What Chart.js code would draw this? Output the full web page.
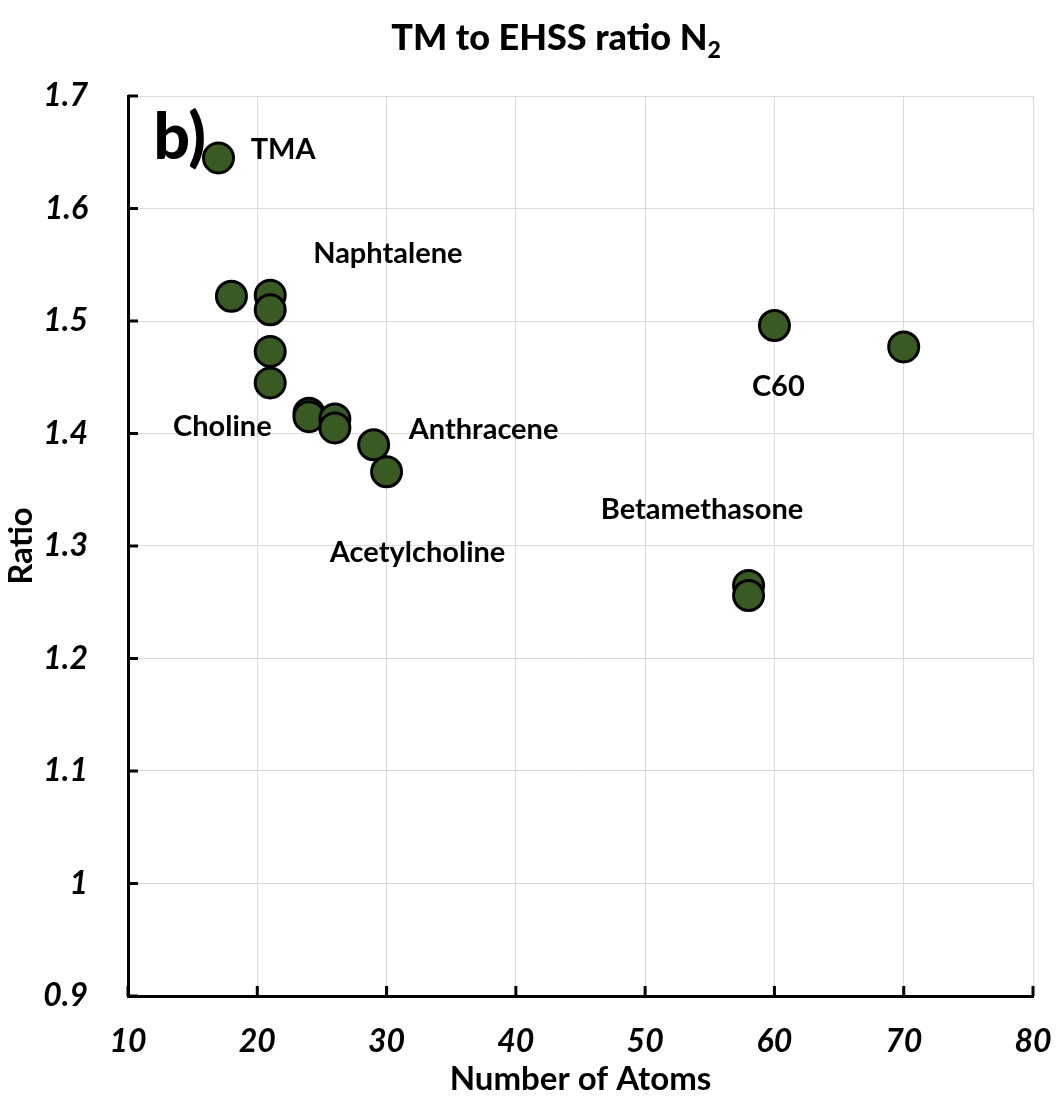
<!DOCTYPE html>
<html>
<head>
<meta charset="utf-8">
<script src="https://cdn.jsdelivr.net/npm/chart.js@4.4.1/dist/chart.umd.min.js"></script>
<style>
  html, body { margin: 0; padding: 0; background: #fff; }
  #wrap { width: 1057px; height: 1099px; }
</style>
</head>
<body>
<div id="wrap"><canvas id="ratioChart" width="1057" height="1099"></canvas></div>
<script>
// number of atoms vs TM/EHSS ratio
const atoms = [17, 18, 21, 21, 21, 21, 24, 24, 26, 26, 29, 30, 60, 70, 58, 58];
const ratio = [1.645, 1.522, 1.523, 1.510, 1.473, 1.445, 1.418, 1.415, 1.413, 1.405, 1.390, 1.366, 1.496, 1.477, 1.265, 1.256];

// molecule names and where they sit (data units)
const names = ["TMA", "Naphtalene", "Choline", "Anthracene", "Acetylcholine", "C60", "Betamethasone"];
const nameX = [22.0, 30.1, 17.3, 37.5, 32.4, 60.3, 54.4];
const nameY = [1.652, 1.560, 1.406, 1.403, 1.294, 1.442, 1.332];

const xTicks = [10, 20, 30, 40, 50, 60, 70, 80];
const yTicks = [0.9, 1.0, 1.1, 1.2, 1.3, 1.4, 1.5, 1.6, 1.7];

const labelFont = "bold 29px Lato";
const tickFont = { family: "Lato", size: 32, style: "italic", weight: "bold" };
const axisTitleFont = { family: "Lato", size: 33, weight: "bold" };

const extras = {
  id: "extras",
  afterDraw(chart) {
    const c = chart.ctx;
    const xs = chart.scales.x, ys = chart.scales.y;
    const area = chart.chartArea;
    c.save();

    // inward tick marks
    c.strokeStyle = "#000";
    c.lineWidth = 3;
    xTicks.forEach(v => {
      const px = xs.getPixelForValue(v);
      c.beginPath(); c.moveTo(px, area.bottom); c.lineTo(px, area.bottom - 10); c.stroke();
    });
    yTicks.forEach(v => {
      const py = ys.getPixelForValue(v);
      c.beginPath(); c.moveTo(area.left, py); c.lineTo(area.left + 10, py); c.stroke();
    });

    // molecule labels
    c.fillStyle = "#000";
    c.font = labelFont;
    c.textAlign = "center";
    c.textBaseline = "middle";
    names.forEach((n, i) => {
      c.fillText(n, xs.getPixelForValue(nameX[i]), ys.getPixelForValue(nameY[i]));
    });

    // panel letter
    c.font = "900 64px Lato";
    c.fillText("b)", xs.getPixelForValue(14.0), ys.getPixelForValue(1.662));

    // title with subscript
    c.font = "900 36px Lato";
    const main = "TM to EHSS ratio N";
    const w1 = c.measureText(main).width;
    c.font = "900 23px Lato";
    const w2 = c.measureText("2").width;
    const x0 = 556 - (w1 + w2) / 2;
    c.textAlign = "left";
    c.textBaseline = "alphabetic";
    c.font = "900 36px Lato";
    c.fillText(main, x0, 50);
    c.font = "900 23px Lato";
    c.fillText("2", x0 + w1, 58);

    c.restore();
  }
};

new Chart(document.getElementById("ratioChart").getContext("2d"), {
  type: "scatter",
  data: {
    datasets: [{
      data: atoms.map((a, i) => ({ x: a, y: ratio[i] })),
      backgroundColor: "#3a5a23",
      borderColor: "#000",
      borderWidth: 3,
      pointRadius: 15,
      pointHoverRadius: 15
    }]
  },
  options: {
    responsive: false,
    animation: false,
    layout: { padding: { top: 96, right: 24, bottom: 0, left: 0 } },
    plugins: {
      legend: { display: false },
      tooltip: { enabled: false }
    },
    scales: {
      x: {
        type: "linear",
        min: 10,
        max: 80,
        afterFit: s => { s.height = 103; s.paddingRight = 0; s.paddingLeft = 0; },
        afterBuildTicks: s => { s.ticks = xTicks.map(v => ({ value: v })); },
        grid: { color: "#d9d9d9", lineWidth: 1, drawTicks: false },
        border: { color: "#000", width: 3 },
        ticks: { color: "#000", font: tickFont, padding: 26, maxRotation: 0 },
        title: {
          display: true,
          text: "Number of Atoms",
          color: "#000",
          font: axisTitleFont,
          padding: { top: 0, bottom: 0 }
        }
      },
      y: {
        type: "linear",
        min: 0.9,
        max: 1.7,
        afterFit: s => { s.width = 128; s.paddingTop = 0; s.paddingBottom = 0; },
        afterBuildTicks: s => { s.ticks = yTicks.map(v => ({ value: v })); },
        grid: { color: "#d9d9d9", lineWidth: 1, drawTicks: false },
        border: { color: "#000", width: 3 },
        ticks: {
          color: "#000",
          font: tickFont,
          padding: 40,
          callback: v => String(Math.round(v * 10) / 10)
        },
        title: {
          display: true,
          text: "Ratio",
          color: "#000",
          font: axisTitleFont,
          padding: { top: 2, bottom: 0 }
        }
      }
    }
  },
  plugins: [extras]
});
</script>
</body>
</html>
